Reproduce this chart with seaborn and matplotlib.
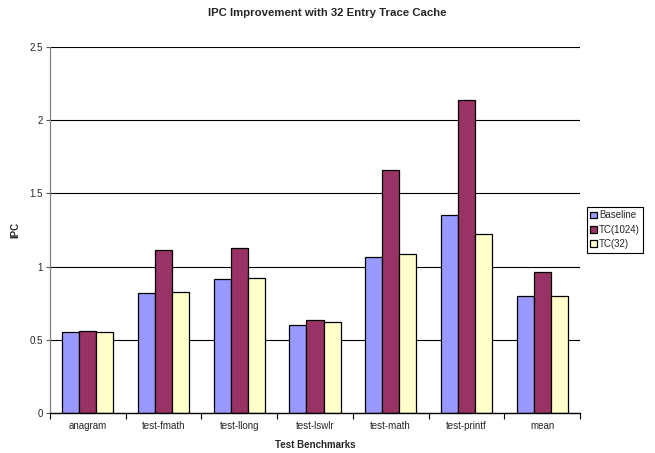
import matplotlib
matplotlib.use("Agg")
import matplotlib.pyplot as plt
import seaborn as sns
import pandas as pd
from matplotlib.ticker import FixedLocator, NullFormatter

# Benchmark IPC for each configuration
benchmarks = ["anagram", "test-fmath", "test-llong", "test-lswlr",
              "test-math", "test-printf", "mean"]
baseline = [0.55, 0.82, 0.915, 0.60, 1.065, 1.352, 0.80]
tc_1024 = [0.56, 1.11, 1.125, 0.633, 1.658, 2.138, 0.962]
tc_32 = [0.55, 0.825, 0.925, 0.62, 1.083, 1.225, 0.80]
series_names = ["Baseline", "TC(1024)", "TC(32)"]
series_colors = ["#9999FF", "#993366", "#FFFFCC"]
y_ticks = [0, 0.5, 1, 1.5, 2, 2.5]
y_tick_labels = ["0", "0.5", "1", "1.5", "2", "2.5"]

rows = []
for name, vals in zip(series_names, [baseline, tc_1024, tc_32]):
    for b, v in zip(benchmarks, vals):
        rows.append({"Benchmark": b, "Config": name, "IPC": v})
df = pd.DataFrame(rows)

sns.set_style("white")
plt.rcParams["font.family"] = ["Liberation Sans", "DejaVu Sans"]

fig = plt.figure(figsize=(6.55, 4.53), dpi=100)
ax = fig.add_axes([50 / 655, 1 - 413 / 453, 530 / 655, 366 / 453])

sns.barplot(data=df, x="Benchmark", y="IPC", hue="Config",
            order=benchmarks, hue_order=series_names,
            palette=series_colors, width=0.675, gap=0,
            edgecolor="black", linewidth=0.9, saturation=1,
            errorbar=None, legend=True, ax=ax, zorder=3)

ax.set_ylim(0, 2.5)
ax.set_xlim(-0.5, len(benchmarks) - 0.5)
ax.set_yticks(y_ticks)
ax.set_yticklabels(y_tick_labels, fontsize=7)
for y in y_ticks[1:]:
    ax.axhline(y, color="black", linewidth=0.8, zorder=1)

# category tick marks sit on the group boundaries
ax.xaxis.set_major_locator(FixedLocator(range(len(benchmarks))))
ax.set_xticklabels(benchmarks, fontsize=7)
ax.tick_params(axis="x", which="major", length=0, pad=6)
ax.xaxis.set_minor_locator(FixedLocator([i + 0.5 for i in range(-1, len(benchmarks))]))
ax.xaxis.set_minor_formatter(NullFormatter())
ax.tick_params(axis="x", which="minor", length=4, width=0.8, color="black",
               direction="out", bottom=True)
ax.tick_params(axis="y", length=3, width=0.8, color="#555555", direction="out",
               left=True, pad=2)

for side in ["top", "right"]:
    ax.spines[side].set_visible(False)
ax.spines["left"].set_color("#808080")
ax.spines["left"].set_linewidth(0.9)
ax.spines["bottom"].set_color("black")
ax.spines["bottom"].set_linewidth(1.0)
ax.spines["bottom"].set_zorder(4)

ax.set_xlabel("Test Benchmarks", fontsize=7, fontweight="bold", labelpad=6)
ax.set_ylabel("IPC", fontsize=7, fontweight="bold", labelpad=7)
fig.suptitle("IPC Improvement with 32 Entry Trace Cache", fontsize=8.2,
             fontweight="bold", x=0.5, y=0.983)

handles, labels = ax.get_legend_handles_labels()
ax.get_legend().remove()
leg = fig.legend(handles, labels, loc="upper left",
                 bbox_to_anchor=(587 / 655, 1 - 207 / 453),
                 fontsize=7, frameon=True, fancybox=False, framealpha=1,
                 edgecolor="black", handlelength=0.7, handleheight=0.7,
                 handletextpad=0.2, borderpad=0.35, labelspacing=0.45,
                 borderaxespad=0)
leg.get_frame().set_linewidth(0.8)

fig.savefig("out.png", dpi=100)
